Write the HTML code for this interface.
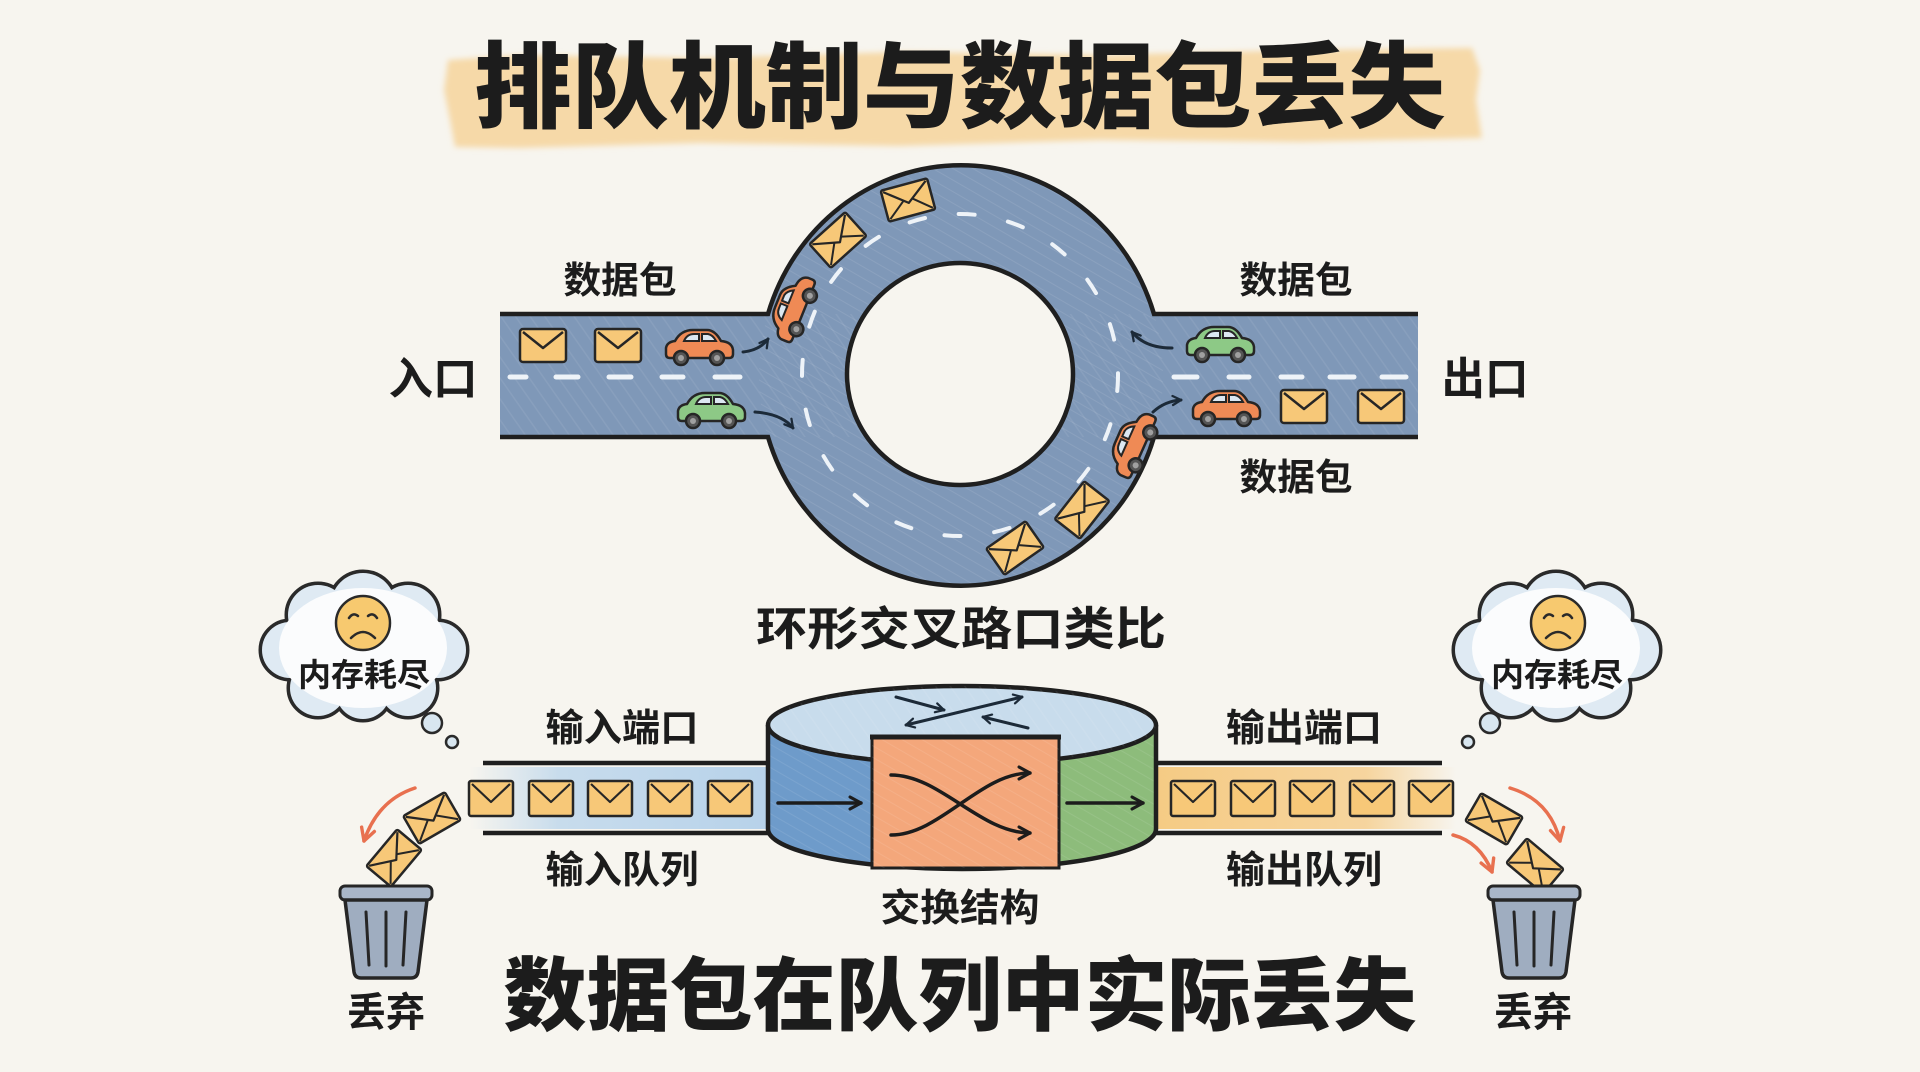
<!DOCTYPE html>
<html><head><meta charset="utf-8"><style>
html,body{margin:0;padding:0;background:#f7f5ef;}
svg{display:block}
text{font-family:"Liberation Sans","Noto Sans CJK SC",sans-serif;font-weight:700;fill:#1c1c1c;}
</style></head><body>
<svg width="1920" height="1072" viewBox="0 0 1920 1072" xmlns="http://www.w3.org/2000/svg" xmlns:xlink="http://www.w3.org/1999/xlink">
<defs>
  <filter id="soft" x="-5%" y="-20%" width="110%" height="140%"><feGaussianBlur stdDeviation="3"/></filter>
  <pattern id="hatch" width="12" height="12" patternUnits="userSpaceOnUse" patternTransform="rotate(-35)">
    <line x1="0" y1="0" x2="0" y2="12" stroke="#ffffff" stroke-opacity="0.07" stroke-width="3"/>
  </pattern>
  <pattern id="hatch2" width="10" height="10" patternUnits="userSpaceOnUse" patternTransform="rotate(-60)">
    <line x1="0" y1="0" x2="0" y2="10" stroke="#ffffff" stroke-opacity="0.09" stroke-width="2"/>
  </pattern>
  <linearGradient id="inBand" x1="0" x2="1" y1="0" y2="0">
    <stop offset="0" stop-color="#c2d9ec" stop-opacity="0"/>
    <stop offset="0.3" stop-color="#c2d9ec" stop-opacity="0.9"/>
    <stop offset="1" stop-color="#b7d2ea" stop-opacity="1"/>
  </linearGradient>
  <linearGradient id="outBand" x1="0" x2="1" y1="0" y2="0">
    <stop offset="0" stop-color="#f5cb84" stop-opacity="1"/>
    <stop offset="0.7" stop-color="#f6d195" stop-opacity="0.9"/>
    <stop offset="1" stop-color="#f6d195" stop-opacity="0"/>
  </linearGradient>
  <marker id="ah" viewBox="0 0 16 16" refX="13" refY="8" markerWidth="16" markerHeight="16" markerUnits="userSpaceOnUse" orient="auto-start-reverse">
    <path d="M2 2 L13 8 L2 14" fill="none" stroke="#1c1c1c" stroke-width="3" stroke-linecap="round" stroke-linejoin="round"/>
  </marker>
  <marker id="ahs" viewBox="0 0 16 16" refX="13" refY="8" markerWidth="12" markerHeight="12" markerUnits="userSpaceOnUse" orient="auto-start-reverse">
    <path d="M2 2 L13 8 L2 14" fill="none" stroke="#1c2a38" stroke-width="3" stroke-linecap="round" stroke-linejoin="round"/>
  </marker>
  <marker id="ahr" viewBox="0 0 16 16" refX="13" refY="8" markerWidth="18" markerHeight="18" markerUnits="userSpaceOnUse" orient="auto-start-reverse">
    <path d="M2 2 L13 8 L2 14" fill="none" stroke="#e8704f" stroke-width="3" stroke-linecap="round" stroke-linejoin="round"/>
  </marker>
  <g id="car">
    <path d="M3 28 L3 22 Q4 16 12 15 Q18 4 30 4 L44 4 Q52 4 58 15 Q69 16 70 24 L70 28 Q70 32 66 32 L7 32 Q3 32 3 28 Z" fill="currentColor" stroke="#262626" stroke-width="2.5" stroke-linejoin="round"/>
    <path d="M21 15 Q24 8 31 8 L36 8 L36 15 Z" fill="#dce8f2" stroke="#262626" stroke-width="2"/>
    <path d="M39 8 L45 8 Q50 9 53 15 L39 15 Z" fill="#dce8f2" stroke="#262626" stroke-width="2"/>
    <circle cx="18" cy="32" r="7" fill="#555" stroke="#262626" stroke-width="2.5"/>
    <circle cx="18" cy="32" r="3" fill="#a0a0a0"/>
    <circle cx="54" cy="32" r="7" fill="#555" stroke="#262626" stroke-width="2.5"/>
    <circle cx="54" cy="32" r="3" fill="#a0a0a0"/>
  </g>
  <g id="env">
    <rect x="1" y="1" width="46" height="33" rx="3" fill="#f7c878" stroke="#262626" stroke-width="2.5"/>
    <path d="M4 4 L24 20 L44 4" fill="none" stroke="#262626" stroke-width="2.5" stroke-linejoin="round"/>
  </g>
  <g id="env2">
    <rect x="1" y="1" width="48" height="32" rx="2" fill="#f7c878" stroke="#262626" stroke-width="2.5"/>
    <path d="M3 3 L25 20 L47 3" fill="none" stroke="#262626" stroke-width="2.2" stroke-linejoin="round"/>
    <path d="M3 31 L20 17 M47 31 L30 17" fill="none" stroke="#262626" stroke-width="2"/>
  </g>
  <g id="qenv">
    <rect x="1" y="1" width="44" height="35" rx="2" fill="#f7c878" stroke="#262626" stroke-width="2.5"/>
    <path d="M4 4 L23 22 L42 4" fill="none" stroke="#262626" stroke-width="2.2" stroke-linejoin="round"/>
  </g>
</defs>

<rect width="1920" height="1072" fill="#f7f5ef"/>

<!-- Title band -->
<path d="M448 60 L520 55 L700 58 L900 52 L1100 55 L1300 50 L1472 48 L1480 70 L1476 100 L1482 138 L1300 142 L1100 140 L900 146 L700 143 L520 148 L455 147 L450 120 L444 90 Z" fill="#f6d9a8" filter="url(#soft)"/>
<text x="960" y="120" font-size="94" text-anchor="middle" textLength="971" lengthAdjust="spacingAndGlyphs" style="font-weight:900">排队机制与数据包丢失</text>

<!-- Roundabout -->
<g>
  <rect x="500" y="314" width="918" height="123" fill="#7f98b8"/>
  <ellipse cx="961" cy="376" rx="202" ry="211" fill="#7f98b8"/>
  <rect x="500" y="314" width="918" height="123" fill="url(#hatch)"/>
  <ellipse cx="961" cy="376" rx="202" ry="211" fill="url(#hatch2)"/>
  <ellipse cx="960" cy="375" rx="158" ry="161" fill="none" stroke="#eef3f8" stroke-width="4" stroke-dasharray="16 34" stroke-linecap="round"/>
  <ellipse cx="960" cy="374" rx="113" ry="111" fill="#f7f5ef" stroke="#1f1f1f" stroke-width="4.5"/>
  <g stroke="#eef3f8" stroke-width="5" stroke-linecap="round">
    <line x1="510" y1="377" x2="526" y2="377"/>
    <line x1="556" y1="377" x2="578" y2="377"/>
    <line x1="609" y1="377" x2="631" y2="377"/>
    <line x1="662" y1="377" x2="683" y2="377"/>
    <line x1="715" y1="377" x2="740" y2="377"/>
    <line x1="1174" y1="377" x2="1197" y2="377"/>
    <line x1="1229" y1="377" x2="1249" y2="377"/>
    <line x1="1281" y1="377" x2="1302" y2="377"/>
    <line x1="1330" y1="377" x2="1354" y2="377"/>
    <line x1="1382" y1="377" x2="1406" y2="377"/>
  </g>
  <path d="M500 314 L768 314 A202 211 0 0 1 1154 314 L1418 314 M500 437 L768 437 A202 211 0 0 0 1154 437 L1418 437" fill="none" stroke="#1f1f1f" stroke-width="4.5"/>
</g>

<!-- Road items -->
<use xlink:href="#env" href="#env" transform="translate(519,328)"/>
<use xlink:href="#env" href="#env" transform="translate(594,328)"/>
<use xlink:href="#car" href="#car" transform="translate(663,326)" style="color:#ef8a55"/>
<use xlink:href="#car" href="#car" transform="translate(675,389)" style="color:#8dc986"/>
<use xlink:href="#car" href="#car" transform="translate(1184,323)" style="color:#8dc986"/>
<use xlink:href="#car" href="#car" transform="translate(1190,387)" style="color:#ef8a55"/>
<use xlink:href="#env" href="#env" transform="translate(1280,389)"/>
<use xlink:href="#env" href="#env" transform="translate(1357,389)"/>

<!-- Ring items -->
<use xlink:href="#env2" href="#env2" transform="translate(908,200) rotate(-15) translate(-25,-17)"/>
<use xlink:href="#env2" href="#env2" transform="translate(838,240) rotate(-42) translate(-25,-17)"/>
<use xlink:href="#car" href="#car" transform="translate(792,308) rotate(-68) translate(-36,-20)" style="color:#ef8a55"/>
<use xlink:href="#car" href="#car" transform="translate(1132,444) rotate(-66) translate(-36,-20)" style="color:#ef8a55"/>
<use xlink:href="#env2" href="#env2" transform="translate(1082,510) rotate(-52) translate(-25,-17)"/>
<use xlink:href="#env2" href="#env2" transform="translate(1015,548) rotate(-35) translate(-25,-17)"/>

<!-- small arrows -->
<g fill="none" stroke="#1c2a38" stroke-width="3" stroke-linecap="round" marker-end="url(#ahs)">
  <path d="M743 352 Q760 350 768 339"/>
  <path d="M755 412 Q782 414 793 428"/>
  <path d="M1172 348 Q1145 348 1132 332"/>
  <path d="M1153 412 Q1165 401 1181 400"/>
</g>

<!-- Roundabout labels -->
<text x="620" y="293" font-size="37" text-anchor="middle" textLength="113" lengthAdjust="spacingAndGlyphs">数据包</text>
<text x="1296" y="293" font-size="37" text-anchor="middle" textLength="113" lengthAdjust="spacingAndGlyphs">数据包</text>
<text x="1296" y="490" font-size="37" text-anchor="middle" textLength="113" lengthAdjust="spacingAndGlyphs">数据包</text>
<text x="433" y="394" font-size="44" text-anchor="middle" textLength="89" lengthAdjust="spacingAndGlyphs">入口</text>
<text x="1485" y="394" font-size="44" text-anchor="middle" textLength="87" lengthAdjust="spacingAndGlyphs">出口</text>
<text x="961" y="645" font-size="46" text-anchor="middle" textLength="410" lengthAdjust="spacingAndGlyphs">环形交叉路口类比</text>

<!-- Queues -->
<rect x="470" y="767" width="298" height="62" fill="url(#inBand)"/>
<rect x="1156" y="767" width="300" height="62" fill="url(#outBand)"/>
<g stroke="#1f1f1f" stroke-width="4.5">
  <line x1="483" y1="763" x2="770" y2="763"/>
  <line x1="483" y1="833" x2="770" y2="833"/>
  <line x1="1155" y1="763" x2="1442" y2="763"/>
  <line x1="1155" y1="833" x2="1442" y2="833"/>
</g>
<use xlink:href="#qenv" href="#qenv" transform="translate(468,780)"/>
<use xlink:href="#qenv" href="#qenv" transform="translate(528,780)"/>
<use xlink:href="#qenv" href="#qenv" transform="translate(587,780)"/>
<use xlink:href="#qenv" href="#qenv" transform="translate(647,780)"/>
<use xlink:href="#qenv" href="#qenv" transform="translate(707,780)"/>
<use xlink:href="#qenv" href="#qenv" transform="translate(1170,780)"/>
<use xlink:href="#qenv" href="#qenv" transform="translate(1230,780)"/>
<use xlink:href="#qenv" href="#qenv" transform="translate(1289,780)"/>
<use xlink:href="#qenv" href="#qenv" transform="translate(1349,780)"/>
<use xlink:href="#qenv" href="#qenv" transform="translate(1408,780)"/>

<!-- Cylinder -->
<clipPath id="cylBody"><path d="M768 725 L768 829 A194 40 0 0 0 1156 829 L1156 725 Z"/></clipPath>
<g clip-path="url(#cylBody)">
  <rect x="760" y="700" width="230" height="200" fill="#6e9bca"/>
  <rect x="960" y="700" width="210" height="200" fill="#8dbc7b"/>
  <rect x="760" y="700" width="410" height="200" fill="url(#hatch2)"/>
</g>
<path d="M768 725 L768 829 A194 40 0 0 0 1156 829 L1156 725" fill="none" stroke="#1f1f1f" stroke-width="4.5"/>
<ellipse cx="962" cy="725" rx="194" ry="39" fill="#c8dcec" stroke="#1f1f1f" stroke-width="4.5"/>
<ellipse cx="962" cy="725" rx="194" ry="39" fill="url(#hatch)"/>
<g fill="none" stroke="#1c2a38" stroke-width="3" stroke-linecap="round">
  <line x1="906" y1="725" x2="1022" y2="697" marker-start="url(#ahs)" marker-end="url(#ahs)"/>
  <line x1="896" y1="697" x2="944" y2="710" marker-end="url(#ahs)"/>
  <line x1="1028" y1="728" x2="983" y2="717" marker-end="url(#ahs)"/>
</g>
<rect x="872" y="737" width="187" height="131" fill="#f4a77b" stroke="#1f1f1f" stroke-width="3"/>
<rect x="872" y="737" width="187" height="131" fill="url(#hatch2)"/>
<line x1="870" y1="737" x2="1061" y2="737" stroke="#1f1f1f" stroke-width="5"/>
<g fill="none" stroke="#1c1c1c" stroke-width="3.5" stroke-linecap="round" marker-end="url(#ah)">
  <path d="M891 775 C940 775 980 833 1030 833"/>
  <path d="M891 835 C940 835 980 773 1030 773"/>
  <path d="M778 803 L861 803"/>
  <path d="M1067 803 L1143 803"/>
</g>

<!-- Lower labels -->
<text x="622" y="741" font-size="38" text-anchor="middle" textLength="153" lengthAdjust="spacingAndGlyphs">输入端口</text>
<text x="622" y="883" font-size="38" text-anchor="middle" textLength="153" lengthAdjust="spacingAndGlyphs">输入队列</text>
<text x="1304" y="741" font-size="38" text-anchor="middle" textLength="156" lengthAdjust="spacingAndGlyphs">输出端口</text>
<text x="1304" y="883" font-size="38" text-anchor="middle" textLength="156" lengthAdjust="spacingAndGlyphs">输出队列</text>
<text x="960" y="921" font-size="38" text-anchor="middle" textLength="159" lengthAdjust="spacingAndGlyphs">交换结构</text>
<text x="960" y="1024" font-size="80" text-anchor="middle" textLength="913" lengthAdjust="spacingAndGlyphs" style="font-weight:900">数据包在队列中实际丢失</text>

<!-- Left cloud -->
<g>
  <g fill="none" stroke="#2a2a2a" stroke-width="7">
    <circle cx="363" cy="605" r="32"/><circle cx="318" cy="615" r="30"/><circle cx="408" cy="615" r="30"/>
    <circle cx="290" cy="650" r="28"/><circle cx="438" cy="650" r="28"/><circle cx="318" cy="688" r="28"/>
    <circle cx="363" cy="692" r="27"/><circle cx="408" cy="688" r="28"/>
  </g>
  <g fill="#dfeaf3">
    <circle cx="363" cy="605" r="32"/><circle cx="318" cy="615" r="30"/><circle cx="408" cy="615" r="30"/>
    <circle cx="290" cy="650" r="28"/><circle cx="438" cy="650" r="28"/><circle cx="318" cy="688" r="28"/>
    <circle cx="363" cy="692" r="27"/><circle cx="408" cy="688" r="28"/>
  </g>
  <ellipse cx="363" cy="648" rx="84" ry="60" fill="#fbfcfd"/>
  <circle cx="432" cy="723" r="10" fill="#d8e6f0" stroke="#2a2a2a" stroke-width="2.5"/>
  <circle cx="452" cy="742" r="6" fill="#d8e6f0" stroke="#2a2a2a" stroke-width="2.5"/>
  <circle cx="363" cy="623" r="27" fill="#f7c96f" stroke="#2a2a2a" stroke-width="2.5"/>
  <path d="M349 618 Q353 612 358 616 M368 616 Q373 612 377 618 M351 638 Q363 626 375 638" fill="none" stroke="#2a2a2a" stroke-width="2.5" stroke-linecap="round"/>
  <text x="364" y="686" font-size="32" text-anchor="middle" textLength="132" lengthAdjust="spacingAndGlyphs">内存耗尽</text>
</g>

<!-- Right cloud -->
<g transform="translate(1193,0)">
  <g fill="none" stroke="#2a2a2a" stroke-width="7">
    <circle cx="363" cy="605" r="32"/><circle cx="318" cy="615" r="30"/><circle cx="408" cy="615" r="30"/>
    <circle cx="290" cy="650" r="28"/><circle cx="438" cy="650" r="28"/><circle cx="318" cy="688" r="28"/>
    <circle cx="363" cy="692" r="27"/><circle cx="408" cy="688" r="28"/>
  </g>
  <g fill="#dfeaf3">
    <circle cx="363" cy="605" r="32"/><circle cx="318" cy="615" r="30"/><circle cx="408" cy="615" r="30"/>
    <circle cx="290" cy="650" r="28"/><circle cx="438" cy="650" r="28"/><circle cx="318" cy="688" r="28"/>
    <circle cx="363" cy="692" r="27"/><circle cx="408" cy="688" r="28"/>
  </g>
  <ellipse cx="363" cy="648" rx="84" ry="60" fill="#fbfcfd"/>
  <circle cx="365" cy="623" r="27" fill="#f7c96f" stroke="#2a2a2a" stroke-width="2.5"/>
  <path d="M351 618 Q355 612 360 616 M370 616 Q375 612 379 618 M353 638 Q365 626 377 638" fill="none" stroke="#2a2a2a" stroke-width="2.5" stroke-linecap="round"/>
  <text x="364" y="686" font-size="32" text-anchor="middle" textLength="132" lengthAdjust="spacingAndGlyphs">内存耗尽</text>
</g>
<circle cx="1490" cy="723" r="10" fill="#d8e6f0" stroke="#2a2a2a" stroke-width="2.5"/>
<circle cx="1468" cy="742" r="6" fill="#d8e6f0" stroke="#2a2a2a" stroke-width="2.5"/>

<!-- Left discard -->
<use xlink:href="#env2" href="#env2" transform="translate(394,858) rotate(-50) translate(-25,-17)"/>
<use xlink:href="#env2" href="#env2" transform="translate(432,818) rotate(-30) translate(-25,-17)"/>
<path d="M415 788 Q378 800 364 841" fill="none" stroke="#e8704f" stroke-width="3.5" stroke-linecap="round" marker-end="url(#ahr)"/>
<rect x="340" y="886" width="92" height="14" rx="5" fill="#a9b6c8" stroke="#262626" stroke-width="3"/>
<path d="M345 900 L427 900 L418 972 Q417 978 411 978 L361 978 Q355 978 354 972 Z" fill="#9fadc0" stroke="#262626" stroke-width="3.5" stroke-linejoin="round"/>
<path d="M366 912 L369 965 M386 912 L386 966 M406 912 L403 965" stroke="#262626" stroke-width="3" stroke-linecap="round"/>
<text x="386" y="1026" font-size="40" text-anchor="middle" textLength="78" lengthAdjust="spacingAndGlyphs">丢弃</text>

<!-- Right discard -->
<use xlink:href="#env2" href="#env2" transform="translate(1535,866) rotate(40) translate(-25,-17)"/>
<use xlink:href="#env2" href="#env2" transform="translate(1494,819) rotate(30) translate(-25,-17)"/>
<path d="M1510 788 Q1550 800 1560 841" fill="none" stroke="#e8704f" stroke-width="3.5" stroke-linecap="round" marker-end="url(#ahr)"/>
<path d="M1453 835 Q1480 842 1492 872" fill="none" stroke="#e8704f" stroke-width="3.5" stroke-linecap="round" marker-end="url(#ahr)"/>
<g transform="translate(1148,0)">
  <rect x="340" y="886" width="92" height="14" rx="5" fill="#a9b6c8" stroke="#262626" stroke-width="3"/>
  <path d="M345 900 L427 900 L418 972 Q417 978 411 978 L361 978 Q355 978 354 972 Z" fill="#9fadc0" stroke="#262626" stroke-width="3.5" stroke-linejoin="round"/>
  <path d="M366 912 L369 965 M386 912 L386 966 M406 912 L403 965" stroke="#262626" stroke-width="3" stroke-linecap="round"/>
</g>
<text x="1533" y="1026" font-size="40" text-anchor="middle" textLength="78" lengthAdjust="spacingAndGlyphs">丢弃</text>

</svg>
</body></html>
